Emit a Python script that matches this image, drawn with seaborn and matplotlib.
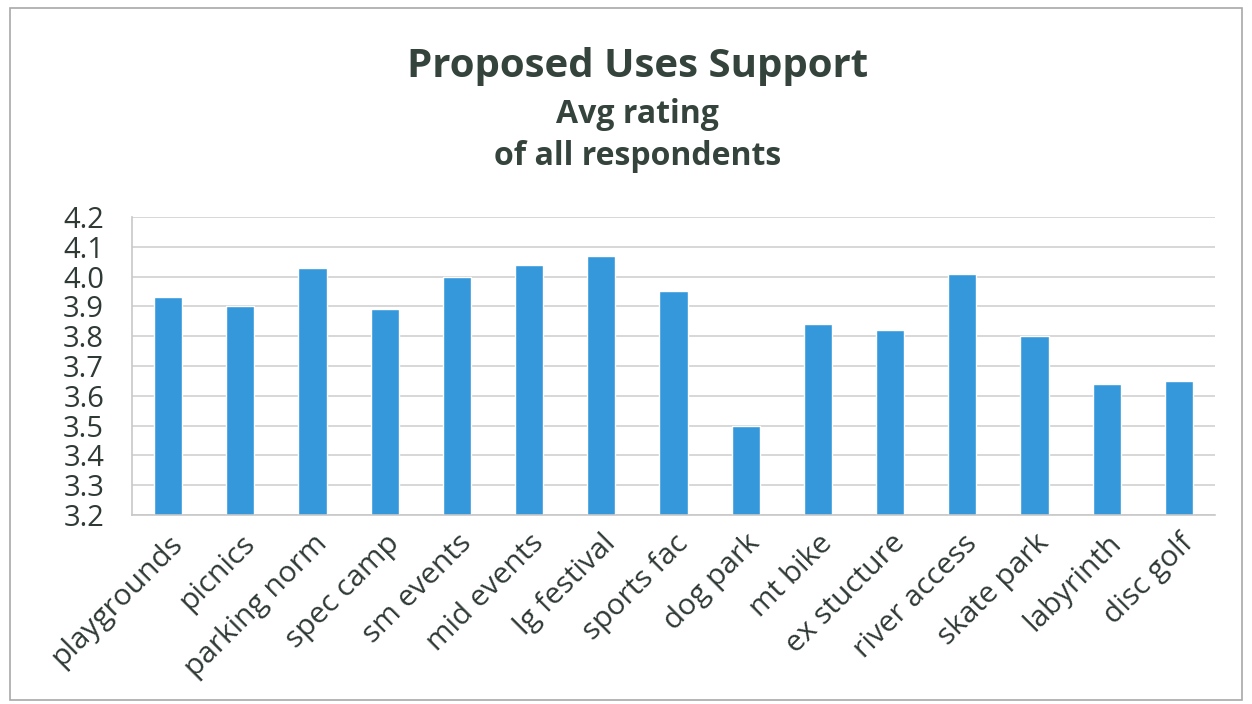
import matplotlib
matplotlib.use('Agg')
import matplotlib.pyplot as plt
import seaborn as sns
import pandas as pd
import numpy as np
from matplotlib.patches import Rectangle

uses = ['playgrounds', 'picnics', 'parking norm', 'spec camp', 'sm events',
        'mid events', 'lg festival', 'sports fac', 'dog park', 'mt bike',
        'ex stucture', 'river access', 'skate park', 'labyrinth', 'disc golf']
avg_rating = [3.93, 3.90, 4.03, 3.89, 4.00, 4.04, 4.07, 3.95, 3.50, 3.84,
              3.82, 4.01, 3.80, 3.64, 3.65]
y_ticks = [3.2, 3.3, 3.4, 3.5, 3.6, 3.7, 3.8, 3.9, 4.0, 4.1, 4.2]

df = pd.DataFrame({'use': uses, 'rating': avg_rating})

sns.set_style('white')
plt.rcParams['font.family'] = ['Open Sans', 'DejaVu Sans']

fig = plt.figure(figsize=(12.52, 7.04), dpi=100)
ax = fig.add_axes([0.1054, 0.2685, 0.865, 0.4233])

sns.barplot(data=df, x='use', y='rating', color='#3498db', saturation=1,
            width=0.39, ax=ax)

ax.set_ylim(3.2, 4.2)
ax.set_xlim(-0.5, len(uses) - 0.5)
ax.set_yticks(y_ticks)
ax.set_yticklabels([f'{v:.1f}' for v in y_ticks], fontsize=21, color='#2f3a35')
ax.yaxis.grid(True, color='#d4d4d4', linewidth=1.3)
ax.set_axisbelow(True)
ax.set_xlabel('')
ax.set_ylabel('')

ax.set_xticks(range(len(uses)))
ax.set_xticklabels(uses, rotation=45, ha='right', rotation_mode='anchor',
                   fontsize=21.5, color='#2f3a35')
ax.tick_params(axis='x', length=0, pad=10)
ax.set_xticks(np.arange(-0.5, len(uses)), minor=True)
ax.tick_params(axis='x', which='minor', length=8, color='#c8c8c8', width=1)
ax.tick_params(axis='y', length=7, color='#c8c8c8', pad=13)

for s in ['top', 'right']:
    ax.spines[s].set_visible(False)
for s in ['left', 'bottom']:
    ax.spines[s].set_color('#c8c8c8')
    ax.spines[s].set_linewidth(1.2)

fig.text(0.509, 0.905, 'Proposed Uses Support', ha='center', va='center',
         fontsize=29, fontweight='bold', color='#34433b')
fig.text(0.509, 0.838, 'Avg rating', ha='center', va='center',
         fontsize=23, fontweight='bold', color='#34433b')
fig.text(0.509, 0.778, 'of all respondents', ha='center', va='center',
         fontsize=23, fontweight='bold', color='#34433b')

fig.patches.append(Rectangle((0.008, 0.006), 0.984, 0.982, transform=fig.transFigure,
                             fill=False, edgecolor='#a8a8a8', linewidth=1.2))

fig.savefig('out.png', dpi=100)
